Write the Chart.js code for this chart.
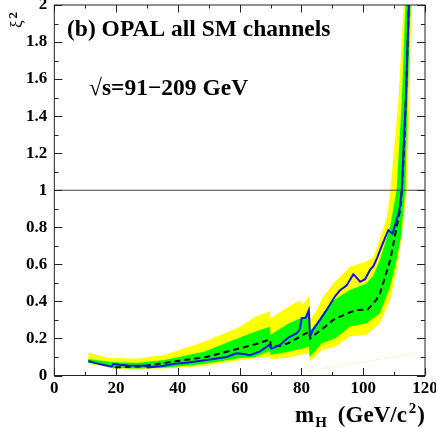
<!DOCTYPE html>
<html>
<head>
<meta charset="utf-8">
<script src="https://cdn.jsdelivr.net/npm/chart.js@4.4.1/dist/chart.umd.min.js"></script>
<style>
  body { margin: 0; background: #fff; }
  canvas { display: block; }
</style>
</head>
<body>
<canvas id="xiChart" width="436" height="427"></canvas>
<script>
// tick labels
const xTicks = [0, 20, 40, 60, 80, 100, 120];
const yTicks = [0, 0.2, 0.4, 0.6, 0.8, 1, 1.2, 1.4, 1.6, 1.8, 2];
const yTickLabels = ["0", "0.2", "0.4", "0.6", "0.8", "1", "1.2", "1.4", "1.6", "1.8", "2"];

// 2 sigma band (yellow), upper and lower edge
const yellowUpX = [11, 16, 19.5, 20.7, 22, 27, 35.6, 48.5, 60, 65, 69.8, 70.0, 75.8, 79.5, 80.3, 82.4, 82.7, 85, 86.6, 90.3, 95.7, 101, 103.3, 105.4, 107.6, 108.8, 111.4, 113.0, 113.05];
const yellowUpY = [0.123, 0.101, 0.092, 0.097, 0.092, 0.092, 0.11, 0.182, 0.262, 0.317, 0.347, 0.309, 0.371, 0.405, 0.38, 0.428, 0.30, 0.353, 0.414, 0.497, 0.587, 0.615, 0.64, 0.74, 0.85, 1.0, 1.487, 1.97, 2.0];
const yellowLoX = [11, 16, 19.4, 27, 35.6, 48.5, 60, 65, 69.8, 70.0, 75.8, 79.5, 82.4, 82.7, 86.6, 91, 95.7, 101, 105.4, 108.7, 111, 112.8, 114.1, 114.9, 115.6, 115.65];
const yellowLoY = [0.062, 0.048, 0.037, 0.035, 0.038, 0.051, 0.082, 0.093, 0.101, 0.089, 0.096, 0.11, 0.119, 0.075, 0.138, 0.155, 0.21, 0.22, 0.282, 0.407, 0.58, 0.8, 1.0, 1.487, 1.97, 2.0];

// 1 sigma band (green)
const greenUpX = [11, 16, 19.4, 27, 35.6, 48.5, 60, 65, 69.8, 70.0, 75.8, 79.5, 82.4, 82.7, 85, 86.6, 90.3, 95.7, 101, 103.3, 105.4, 108.7, 110.8, 112.5, 113.6, 113.65];
const greenUpY = [0.089, 0.078, 0.071, 0.069, 0.083, 0.128, 0.205, 0.236, 0.263, 0.219, 0.281, 0.308, 0.326, 0.24, 0.282, 0.326, 0.405, 0.461, 0.497, 0.54, 0.623, 0.803, 1.0, 1.487, 1.97, 2.0];
const greenLoX = [11, 16, 19.4, 27, 35.6, 48.5, 60, 65, 69.8, 70.0, 75.8, 79.5, 82.4, 82.7, 86.6, 91, 95.7, 101, 105.4, 108.7, 110.5, 112.2, 113.6, 114.4, 115.3, 115.35];
const greenLoY = [0.069, 0.055, 0.04, 0.038, 0.042, 0.062, 0.095, 0.10, 0.132, 0.11, 0.128, 0.142, 0.155, 0.10, 0.174, 0.201, 0.263, 0.282, 0.336, 0.479, 0.6, 0.75, 1.0, 1.487, 1.97, 2.0];

// expected median (dashed)
const medX = [19.6, 27.7, 38.5, 49.3, 60.1, 65, 69.8, 70.1, 73, 75.8, 79.5, 82.5, 82.8, 84.9, 87.1, 90.3, 92.5, 95.7, 97.9, 101.5, 104.3, 105.4, 107.1, 108.7, 110.8, 111.9, 112.5, 113.2, 113.8, 114.3, 114.75];
const medY = [0.044, 0.048, 0.075, 0.10, 0.147, 0.168, 0.195, 0.155, 0.16, 0.175, 0.21, 0.237, 0.20, 0.228, 0.255, 0.30, 0.318, 0.341, 0.353, 0.357, 0.41, 0.443, 0.533, 0.62, 0.80, 0.89, 1.0, 1.22, 1.49, 1.75, 2.0];

// observed (blue)
const obsX = [11, 13, 16, 18.6, 19.1, 21, 24, 27.7, 29.7, 30.2, 35, 38.5, 44, 49.3, 55.8, 59, 61.2, 63.3, 66.6, 69.6, 70.3, 73, 75.8, 78.5, 79.5, 80.1, 81.4, 82.4, 82.8, 83.5, 84.5, 86, 88, 91, 92.5, 94.6, 96.8, 97.5, 99, 100.6, 102.2, 103.3, 104.5, 106, 108.1, 109.5, 110.8, 111.7, 112.5, 113.0, 113.8, 114.7, 114.75];
const obsY = [0.078, 0.068, 0.057, 0.048, 0.062, 0.058, 0.054, 0.053, 0.054, 0.044, 0.051, 0.062, 0.072, 0.084, 0.10, 0.12, 0.116, 0.11, 0.13, 0.165, 0.145, 0.165, 0.205, 0.228, 0.25, 0.31, 0.312, 0.353, 0.21, 0.24, 0.265, 0.30, 0.35, 0.43, 0.46, 0.485, 0.546, 0.535, 0.506, 0.52, 0.57, 0.59, 0.635, 0.70, 0.785, 0.765, 0.84, 0.89, 1.0, 1.2, 1.49, 1.97, 2.0];

// faint trace near the bottom right, and the xi^2 = 1 line
const faintX = [82.5, 119.8];
const faintY = [0.025, 0.128];
const refX = [0, 120];
const refY = [1, 1];

const pts = (xs, ys) => xs.map((x, i) => ({ x: x, y: ys[i] }));
// closed outline: upper edge forward, lower edge back
const band = (ux, uy, lx, ly) => pts(ux, uy).concat(pts(lx, ly).reverse());

const serif = '"Liberation Serif", "Times New Roman", serif';

const frameAndText = {
  id: "frameAndText",
  afterDatasetsDraw(chart) {
    const { ctx, chartArea: a, scales } = chart;
    const x = scales.x, y = scales.y;
    ctx.save();
    ctx.strokeStyle = "#222";
    ctx.lineWidth = 1;
    ctx.strokeRect(a.left, a.top, a.right - a.left, a.bottom - a.top);

    // ticks on all four sides, pointing in
    ctx.beginPath();
    for (let i = 0; i < xTicks.length; i++) {
      const vals = [xTicks[i]];
      if (i < xTicks.length - 1) vals.push((xTicks[i] + xTicks[i + 1]) / 2);
      vals.forEach((v, k) => {
        const px = Math.round(x.getPixelForValue(v)) + 0.5;
        const len = k === 0 ? 7.5 : 3.5;
        ctx.moveTo(px, a.bottom); ctx.lineTo(px, a.bottom - len);
        ctx.moveTo(px, a.top); ctx.lineTo(px, a.top + len);
      });
    }
    for (let i = 0; i < yTicks.length; i++) {
      const vals = [yTicks[i]];
      if (i < yTicks.length - 1) vals.push((yTicks[i] + yTicks[i + 1]) / 2);
      vals.forEach((v, k) => {
        const py = Math.round(y.getPixelForValue(v)) + 0.5;
        const len = k === 0 ? 8 : 4.2;
        ctx.moveTo(a.left, py); ctx.lineTo(a.left + len, py);
        ctx.moveTo(a.right, py); ctx.lineTo(a.right - len, py);
      });
    }
    ctx.stroke();

    ctx.fillStyle = "#000";
    ctx.textBaseline = "alphabetic";
    ctx.textAlign = "left";
    ctx.font = "bold 23.5px " + serif;
    ctx.fillText("(b) OPAL all SM channels", 67, 36);
    ctx.fillText("\u221As=91\u2212209 GeV", 89, 95);

    // x title: m_H (GeV/c^2), right aligned to the frame
    const big = "bold 23px " + serif, small = "bold 15px " + serif;
    ctx.font = big;
    const wm = ctx.measureText("m").width;
    const wp = ctx.measureText("(GeV/c").width;
    const wc = ctx.measureText(")").width;
    ctx.font = small;
    const wh = ctx.measureText("H").width;
    const w2 = ctx.measureText("2").width;
    let cx = a.right - (wm + 1 + wh + 11 + wp + 2 + w2 + 1 + wc);
    const base = 421.5;
    ctx.font = big; ctx.fillText("m", cx, base); cx += wm + 1;
    ctx.font = small; ctx.fillText("H", cx, base + 5); cx += wh + 11;
    ctx.font = big; ctx.fillText("(GeV/c", cx, base); cx += wp + 2;
    ctx.font = small; ctx.fillText("2", cx, base - 9); cx += w2 + 1;
    ctx.font = big; ctx.fillText(")", cx, base);

    // y title: xi^2, rotated
    ctx.translate(22, 28);
    ctx.rotate(-Math.PI / 2);
    ctx.font = "17px " + serif;
    const wx = ctx.measureText("\u03BE").width;
    ctx.fillText("\u03BE", 0, 0);
    ctx.font = "bold 13px " + serif;
    ctx.fillText("2", wx + 2, -5);
    ctx.restore();
  }
};

new Chart(document.getElementById("xiChart"), {
  type: "line",
  data: {
    datasets: [
      {
        data: pts(refX, refY),
        borderColor: "#444",
        borderWidth: 1,
        pointRadius: 0,
        fill: false,
        order: 1,
      },
      {
        data: pts(obsX, obsY),
        borderColor: "#1414e6",
        borderWidth: 2,
        pointRadius: 0,
        fill: false,
        tension: 0,
        order: 2,
      },
      {
        data: pts(medX, medY),
        borderColor: "#000",
        borderWidth: 2,
        borderDash: [6, 4],
        pointRadius: 0,
        fill: false,
        order: 3,
      },
      {
        data: band(greenUpX, greenUpY, greenLoX, greenLoY),
        borderWidth: 0,
        borderColor: "rgba(0,0,0,0)",
        backgroundColor: "#00ff00",
        pointRadius: 0,
        fill: "shape",
        order: 4,
      },
      {
        data: band(yellowUpX, yellowUpY, yellowLoX, yellowLoY),
        borderWidth: 0,
        borderColor: "rgba(0,0,0,0)",
        backgroundColor: "#ffff00",
        pointRadius: 0,
        fill: "shape",
        order: 5,
      },
      {
        data: pts(faintX, faintY),
        borderColor: "rgba(225,225,110,0.55)",
        borderWidth: 1,
        borderDash: [2, 2],
        pointRadius: 0,
        fill: false,
        order: 6,
      },
    ],
  },
  options: {
    responsive: false,
    animation: false,
    layout: { padding: { top: 5, right: 11, left: 0, bottom: 0 } },
    plugins: { legend: { display: false }, tooltip: { enabled: false } },
    scales: {
      x: {
        type: "linear",
        min: 0,
        max: 120,
        grid: { display: false, drawTicks: false },
        border: { display: false },
        afterBuildTicks: (s) => { s.ticks = xTicks.map((v) => ({ value: v })); },
        afterFit: (s) => { s.height = 51.5; s.paddingLeft = 0; s.paddingRight = 0; },
        ticks: { color: "#000", padding: 3, maxRotation: 0, font: { family: serif, size: 17, weight: "bold" } },
      },
      y: {
        type: "linear",
        min: 0,
        max: 2,
        grid: { display: false, drawTicks: false },
        border: { display: false },
        afterBuildTicks: (s) => { s.ticks = yTicks.map((v) => ({ value: v })); },
        afterFit: (s) => { s.width = 54.3; s.paddingTop = 0; s.paddingBottom = 0; },
        ticks: {
          color: "#000",
          padding: 7,
          font: { family: serif, size: 17, weight: "bold" },
          callback: (v, i) => yTickLabels[i],
        },
      },
    },
  },
  plugins: [frameAndText],
});
</script>
</body>
</html>
